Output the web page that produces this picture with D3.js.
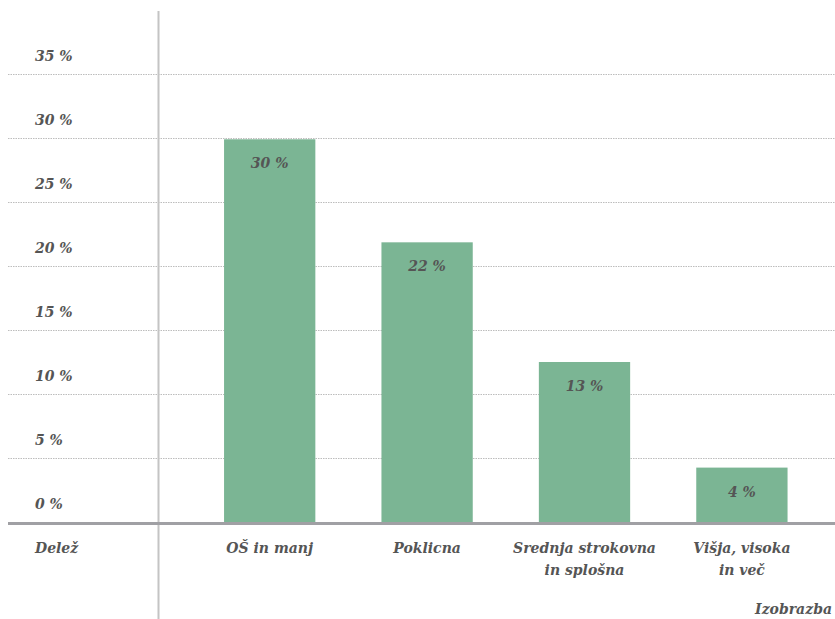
<!DOCTYPE html>
<html>
<head>
<meta charset="utf-8">
<script src="https://cdn.jsdelivr.net/npm/d3@7"></script>
<style>
  body { margin: 0; background: #fff; }
  svg text { font-family: "DejaVu Serif", serif; font-style: italic; font-weight: bold; fill: #555; }
</style>
</head>
<body>
<div id="chart"></div>
<script>
var categories = [["OŠ in manj"], ["Poklicna"], ["Srednja strokovna", "in splošna"], ["Višja, visoka", "in več"]];
var values = [29.9, 21.85, 12.5, 4.25];
var valueLabels = ["30 %", "22 %", "13 %", "4 %"];
var ticks = [0, 5, 10, 15, 20, 25, 30, 35];

var width = 835, height = 619;

var svg = d3.select("#chart").append("svg")
    .attr("width", width)
    .attr("height", height);

var x = d3.scaleBand()
    .domain(d3.range(values.length))
    .range([191, 820.6])
    .paddingInner(0.42)
    .paddingOuter(0.21);

var y = d3.scaleLinear()
    .domain([0, 40])
    .range([522, 10]);

// Gridlines
svg.append("g").selectAll("line")
    .data(ticks.filter(function(d) { return d > 0; }))
  .enter().append("line")
    .attr("x1", 8)
    .attr("x2", width)
    .attr("y1", function(d) { return y(d) + 0.5; })
    .attr("y2", function(d) { return y(d) + 0.5; })
    .style("stroke", "#bdbdbd")
    .style("stroke-width", 1)
    .style("stroke-dasharray", "1.5,1");

// Tick labels
svg.append("g").selectAll("text")
    .data(ticks)
  .enter().append("text")
    .attr("x", 35)
    .attr("y", function(d) { return y(d) - 13; })
    .style("font-size", "14px")
    .text(function(d) { return d + " %"; });

// Vertical separator
svg.append("line")
    .attr("x1", 158.5).attr("x2", 158.5)
    .attr("y1", 11).attr("y2", height)
    .style("stroke", "#c4c4c4")
    .style("stroke-width", 2);

// Bars
svg.append("g").selectAll("rect")
    .data(values)
  .enter().append("rect")
    .attr("x", function(d, i) { return x(i); })
    .attr("y", function(d) { return y(d); })
    .attr("width", x.bandwidth())
    .attr("height", function(d) { return y(0) - y(d); })
    .style("fill", "#7bb594");

// Bar labels
svg.append("g").selectAll("text")
    .data(values)
  .enter().append("text")
    .attr("x", function(d, i) { return x(i) + x.bandwidth() / 2; })
    .attr("y", function(d) { return y(d) + 29; })
    .attr("text-anchor", "middle")
    .style("font-size", "14px")
    .text(function(d, i) { return valueLabels[i]; });

// Baseline
svg.append("line")
    .attr("x1", 8).attr("x2", width)
    .attr("y1", y(0) + 1.5).attr("y2", y(0) + 1.5)
    .style("stroke", "#a0a0a4")
    .style("stroke-width", 3);

// Category labels
var cat = svg.append("g").selectAll("text")
    .data(categories)
  .enter().append("text")
    .attr("text-anchor", "middle")
    .attr("y", 553)
    .style("font-size", "14px");

cat.selectAll("tspan")
    .data(function(d, i) { return d.map(function(t) { return { t: t, i: i }; }); })
  .enter().append("tspan")
    .attr("x", function(d) { return x(d.i) + x.bandwidth() / 2; })
    .attr("dy", function(d, j) { return j === 0 ? 0 : 22; })
    .text(function(d) { return d.t; });

svg.append("text")
    .attr("x", 35)
    .attr("y", 553)
    .style("font-size", "14px")
    .text("Delež");

svg.append("text")
    .attr("x", 832)
    .attr("y", 614)
    .attr("text-anchor", "end")
    .style("font-size", "14px")
    .text("Izobrazba");
</script>
</body>
</html>
